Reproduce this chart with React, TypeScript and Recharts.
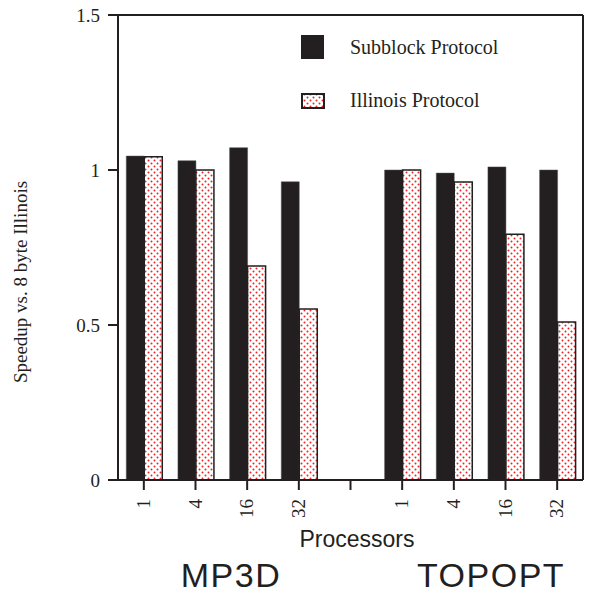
import { Bar, BarChart, XAxis, YAxis } from "recharts"

const categories = ["1", "4", "16", "32", "", "1", "4", "16", "32"]
const subblock = [1.045, 1.03, 1.072, 0.962, null, 1.0, 0.99, 1.01, 1.0]
const illinois = [1.043, 1.0, 0.69, 0.552, null, 1.0, 0.961, 0.793, 0.51]
const yTicks = [0, 0.5, 1, 1.5]
const groups = [
  { label: "MP3D", x: 231 },
  { label: "TOPOPT", x: 491 },
]

const data = categories.map((name, i) => ({
  name,
  subblock: subblock[i],
  illinois: illinois[i],
}))

const serif = "'Liberation Serif', 'Times New Roman', serif"
const sans = "'Liberation Sans', Arial, sans-serif"
const ink = "#231f20"

function XTick(props: any) {
  const { x, y, payload } = props
  return (
    <text
      x={0}
      y={0}
      transform={`translate(${x + 6},${y + 7}) rotate(-90)`}
      textAnchor="end"
      fontFamily={serif}
      fontSize={19}
      fill={ink}
    >
      {payload.value}
    </text>
  )
}

export default function App() {
  return (
    <div style={{ position: "absolute", left: 0, top: 0, width: 589, height: 597, background: "#fff" }}>
      <BarChart
        width={589}
        height={597}
        data={data}
        margin={{ top: 14, right: 5, bottom: 0, left: 58 }}
        barGap={0}
        barCategoryGap="16%"
      >
        <defs>
          <pattern id="dots" width={6} height={6} patternUnits="userSpaceOnUse">
            <rect width={6} height={6} fill="#fff" />
            <circle cx={1.5} cy={1.5} r={1} fill="#e8262c" />
            <circle cx={4.5} cy={4.5} r={1} fill="#e8262c" />
          </pattern>
        </defs>
        <XAxis
          dataKey="name"
          height={117}
          interval={0}
          tick={<XTick />}
          tickSize={10}
          tickLine={{ stroke: ink, strokeWidth: 2 }}
          axisLine={{ stroke: ink, strokeWidth: 2 }}
        />
        <XAxis
          xAxisId="top"
          dataKey="name"
          orientation="top"
          height={1}
          tick={false}
          tickLine={false}
          axisLine={{ stroke: ink, strokeWidth: 2 }}
        />
        <YAxis
          width={60}
          domain={[0, 1.5]}
          ticks={yTicks}
          tickSize={10}
          tickMargin={8}
          tick={{ fontFamily: serif, fontSize: 19, fill: ink }}
          tickLine={{ stroke: ink, strokeWidth: 2 }}
          axisLine={{ stroke: ink, strokeWidth: 2 }}
        />
        <YAxis
          yAxisId="right"
          orientation="right"
          width={1}
          domain={[0, 1.5]}
          tick={false}
          tickLine={false}
          axisLine={{ stroke: ink, strokeWidth: 2 }}
        />
        <Bar dataKey="subblock" name="Subblock Protocol" fill={ink} stroke="#555" strokeWidth={0.5} isAnimationActive={false} />
        <Bar dataKey="illinois" name="Illinois Protocol" fill="url(#dots)" stroke={ink} strokeWidth={1.5} isAnimationActive={false} />
      </BarChart>
      <svg
        width={589}
        height={597}
        style={{ position: "absolute", left: 0, top: 0, pointerEvents: "none" }}
      >
        <rect x={301} y={35} width={23} height={24} fill={ink} />
        <text x={350} y={54} fontFamily={serif} fontSize={20} fill={ink}>
          Subblock Protocol
        </text>
        <rect x={302} y={94} width={22} height={14} fill="url(#dots)" stroke={ink} strokeWidth={2} />
        <text x={350} y={107} fontFamily={serif} fontSize={20} fill={ink}>
          Illinois Protocol
        </text>
        <text
          transform="translate(27,282) rotate(-90)"
          textAnchor="middle"
          fontFamily={serif}
          fontSize={19}
          fill={ink}
        >
          Speedup vs. 8 byte Illinois
        </text>
        <text x={357} y={547} textAnchor="middle" fontFamily={sans} fontSize={23} fill={ink}>
          Processors
        </text>
        {groups.map((g) => (
          <text
            key={g.label}
            x={g.x}
            y={587}
            textAnchor="middle"
            fontFamily={sans}
            fontSize={34}
            letterSpacing={1.5}
            fill={ink}
          >
            {g.label}
          </text>
        ))}
      </svg>
    </div>
  )
}
